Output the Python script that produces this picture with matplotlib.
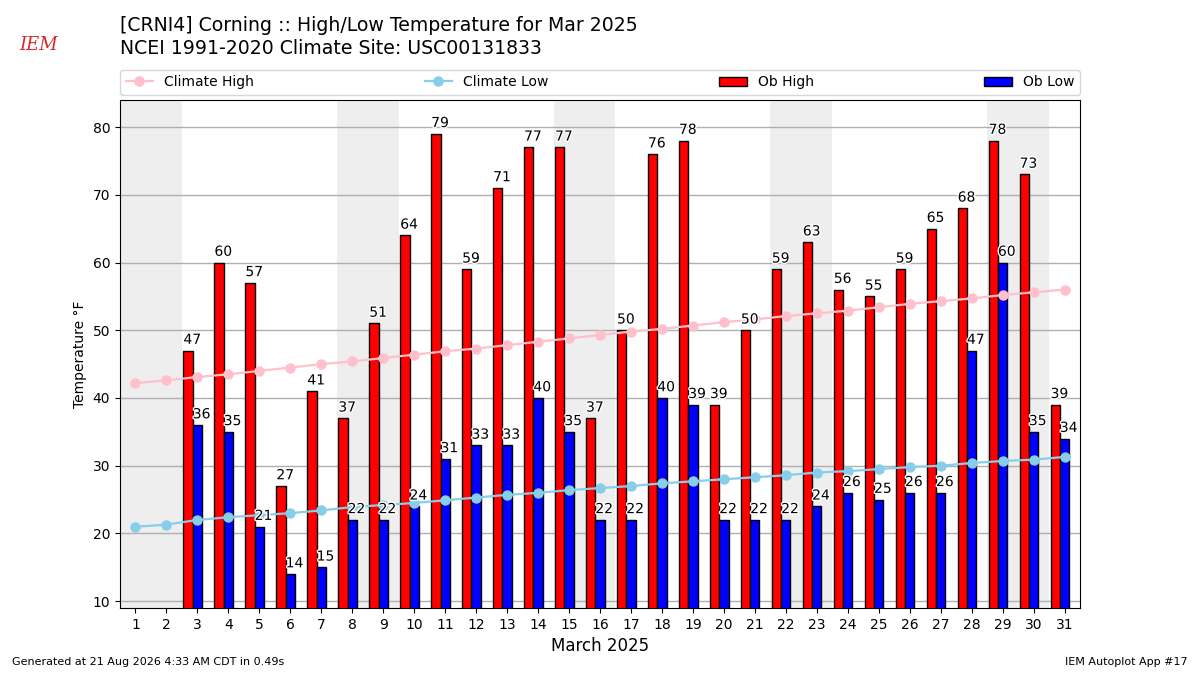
import numpy as np
import matplotlib
matplotlib.use("Agg")
import matplotlib.pyplot as plt
import matplotlib.patheffects as pe

days = list(range(1, 32))
ob_high = [np.nan, np.nan, 47, 60, 57, 27, 41, 37, 51, 64, 79, 59, 71, 77, 77, 37,
           50, 76, 78, 39, 50, 59, 63, 56, 55, 59, 65, 68, 78, 73, 39]
ob_low = [np.nan, np.nan, 36, 35, 21, 14, 15, 22, 22, 24, 31, 33, 33, 40, 35, 22,
          22, 40, 39, 22, 22, 22, 24, 26, 25, 26, 26, 47, 60, 35, 34]
clim_high = [42.2, 42.6, 43.1, 43.5, 44.0, 44.5, 45.0, 45.4, 45.9, 46.4, 46.9, 47.3,
             47.8, 48.3, 48.8, 49.3, 49.8, 50.2, 50.7, 51.2, 51.6, 52.1, 52.5, 52.9,
             53.4, 53.9, 54.3, 54.7, 55.2, 55.6, 56.0]
clim_low = [21.0, 21.3, 22.0, 22.4, 22.7, 23.0, 23.4, 23.9, 24.2, 24.5, 24.9, 25.3,
            25.7, 26.0, 26.4, 26.7, 27.0, 27.4, 27.7, 28.0, 28.3, 28.6, 29.0, 29.2,
            29.5, 29.8, 30.0, 30.4, 30.7, 30.9, 31.3]
weekend_starts = [1, 8, 15, 22, 29]

title_lines = ["[CRNI4] Corning :: High/Low Temperature for Mar 2025",
               "NCEI 1991-2020 Climate Site: USC00131833"]

fig = plt.figure(figsize=(12, 6.75), dpi=100)
ax = fig.add_axes([0.1, 0.0993, 0.8, 0.7526])

x = np.array(days, dtype=float)
for s in weekend_starts:
    ax.axvspan(s - 0.5, s + 1.5, color="#eeeeee", zorder=0, lw=0)

width = 0.3
ax.bar(x - 0.3, ob_high, width=width, color="red", edgecolor="black", lw=1,
       label="Ob High", zorder=2)
ax.bar(x, ob_low, width=width, color="blue", edgecolor="black", lw=1,
       label="Ob Low", zorder=2)
ax.plot(x, clim_high, color="pink", marker="o", ms=6.5, lw=1.6,
        label="Climate High", zorder=3)
ax.plot(x, clim_low, color="skyblue", marker="o", ms=6.5, lw=1.6,
        label="Climate Low", zorder=3)

stroke = [pe.withStroke(linewidth=2, foreground="white")]
for xi, hv, lv in zip(x, ob_high, ob_low):
    if not np.isnan(hv):
        ax.text(xi - 0.45, hv + 1, f"{int(hv)}", fontsize=10, zorder=4,
                path_effects=stroke)
    if not np.isnan(lv):
        ax.text(xi - 0.15, lv + 1, f"{int(lv)}", fontsize=10, zorder=4,
                path_effects=stroke)

ax.set_xlim(0.5, 31.5)
ax.set_ylim(9, 84)
ax.set_xticks(days)
ax.set_xticklabels([str(d) for d in days])
ax.yaxis.grid(True, color="#b0b0b0", lw=1, zorder=1)
ax.set_axisbelow(True)
ax.tick_params(labelsize=10)
ax.set_xlabel("March 2025", fontsize=12)
ax.set_ylabel("Temperature °F", fontsize=10)

handles, labels = ax.get_legend_handles_labels()
order = [labels.index(n) for n in ["Climate High", "Climate Low", "Ob High", "Ob Low"]]
ax.legend([handles[i] for i in order], [labels[i] for i in order],
          loc="lower left", bbox_to_anchor=(0, 1.01, 1, 0.05), mode="expand",
          ncol=4, fontsize=10, borderaxespad=0)

fig.text(0.1, 0.962, title_lines[0], fontsize=13.6, va="center")
fig.text(0.1, 0.928, title_lines[1], fontsize=13.6, va="center")
fig.text(0.016, 0.933, "IEM", fontsize=13, color="#d42a2a", style="italic",
         family="DejaVu Serif", va="center")
fig.text(0.01, 0.015, "Generated at 21 Aug 2026 4:33 AM CDT in 0.49s", fontsize=8)
fig.text(0.99, 0.015, "IEM Autoplot App #17", fontsize=8, ha="right")

fig.savefig("out.png", dpi=100)
